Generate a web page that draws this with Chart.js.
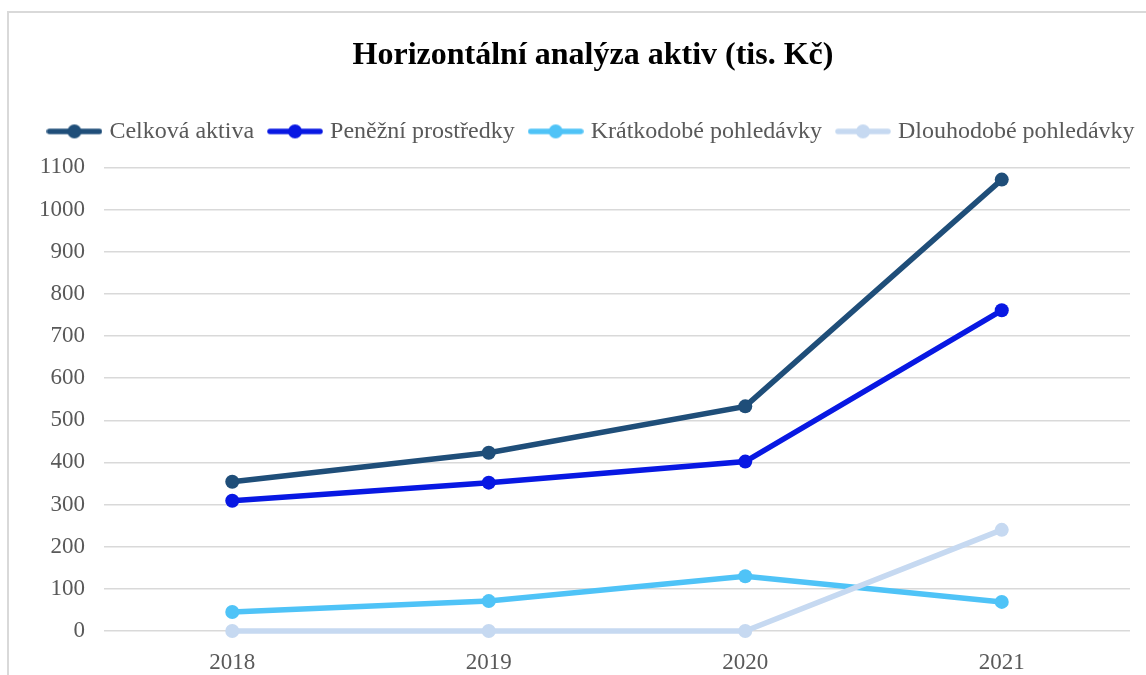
<!DOCTYPE html>
<html>
<head>
<meta charset="utf-8">
<script src="https://cdn.jsdelivr.net/npm/chart.js@4.4.0/dist/chart.umd.min.js"></script>
<style>
  html, body { margin:0; padding:0; background:#fff; overflow:hidden; }
  #frame { position:absolute; left:7px; top:11px; width:1200px; height:700px; border:2px solid #d9d9d9; }
  #wrap { position:absolute; left:0; top:0; width:1146px; height:675px; }
</style>
</head>
<body>
<div id="frame"></div>
<div id="wrap"><canvas id="c"></canvas></div>
<script>
// horizontální analýza aktiv
const roky = ['2018','2019','2020','2021'];
const celkovaAktiva = [354, 423, 533, 1071];
const penezniProstredky = [309, 352, 402, 761];
const kratkodobePohledavky = [45, 71, 130, 69];
const dlouhodobePohledavky = [0, 0, 0, 240];
const nazvy = ['Celková aktiva','Peněžní prostředky','Krátkodobé pohledávky','Dlouhodobé pohledávky'];
const barvy = ['#1F4E79','#0818E3','#4FC3F7','#C6D9F1'];

const serif = '"Liberation Serif", "Times New Roman", serif';

// značka do legendy: čára s kolečkem
function znacka(color) {
  const cv = document.createElement('canvas');
  cv.width = 56; cv.height = 16;
  const g = cv.getContext('2d');
  g.strokeStyle = color; g.lineWidth = 5.5; g.lineCap = 'round';
  g.beginPath(); g.moveTo(3,8); g.lineTo(53,8); g.stroke();
  g.fillStyle = color;
  g.beginPath(); g.arc(28,8,7,0,Math.PI*2); g.fill();
  return cv;
}

const serie = [celkovaAktiva, penezniProstredky, kratkodobePohledavky, dlouhodobePohledavky];
const datasets = serie.map((d,i) => ({
  label: nazvy[i], data: d, xAxisID: 'x', yAxisID: 'y',
  borderColor: barvy[i], backgroundColor: barvy[i],
  borderWidth: 5.5, pointRadius: 7, pointHoverRadius: 7,
  pointBorderWidth: 0, tension: 0, order: 3 - i, clip: false
}));

new Chart(document.getElementById('c'), {
  type: 'line',
  data: { labels: roky, datasets },
  options: {
    responsive: true, maintainAspectRatio: false, animation: false,
    // pravý okraj záporný, aby se legenda vešla do jednoho řádku (posun doprava)
    layout: { padding: { left: 29, right: -11, top: 20, bottom: 0 } },
    plugins: {
      title: {
        display: true, text: 'Horizontální analýza aktiv (tis. Kč)',
        color: '#000', font: { family: serif, size: 32, weight: 'bold' },
        padding: { top: 17, bottom: 26 }
      },
      legend: {
        position: 'top',
        labels: {
          usePointStyle: true, pointStyleWidth: 46, boxHeight: 14, padding: 18,
          color: '#595959', font: { family: serif, size: 24 },
          generateLabels: chart => chart.data.datasets.map((ds,i) => ({
            text: ds.label, pointStyle: znacka(barvy[i]), fillStyle: barvy[i],
            strokeStyle: barvy[i], lineWidth: 0, fontColor: '#595959',
            hidden: !chart.isDatasetVisible(i), datasetIndex: i
          }))
        }
      },
      tooltip: { enabled: false }
    },
    scales: {
      x: {
        offset: true,
        grid: { display: false, drawTicks: false },
        border: { display: false },
        ticks: { color: '#595959', font: { family: serif, size: 23 }, padding: 18 },
        afterFit: s => { s.height = 44; }
      },
      y: {
        min: 0, max: 1100,
        grid: { color: '#D9D9D9', lineWidth: 1.5, drawTicks: false },
        border: { display: false },
        ticks: { stepSize: 100, color: '#595959', font: { family: serif, size: 23 }, padding: 19,
                 callback: v => String(v) },
        afterFit: s => { s.width = 75; }
      },
      // prázdné osy jen kvůli okrajům plochy grafu
      xTop: {
        type: 'category', position: 'top', display: true,
        grid: { display: false, drawTicks: false },
        border: { display: false },
        ticks: { display: false },
        afterFit: s => { s.height = 14; }
      },
      yRight: {
        position: 'right', display: true,
        grid: { display: false, drawTicks: false },
        border: { display: false },
        ticks: { display: false },
        afterFit: s => { s.width = 27; }
      }
    }
  }
});
</script>
</body>
</html>
